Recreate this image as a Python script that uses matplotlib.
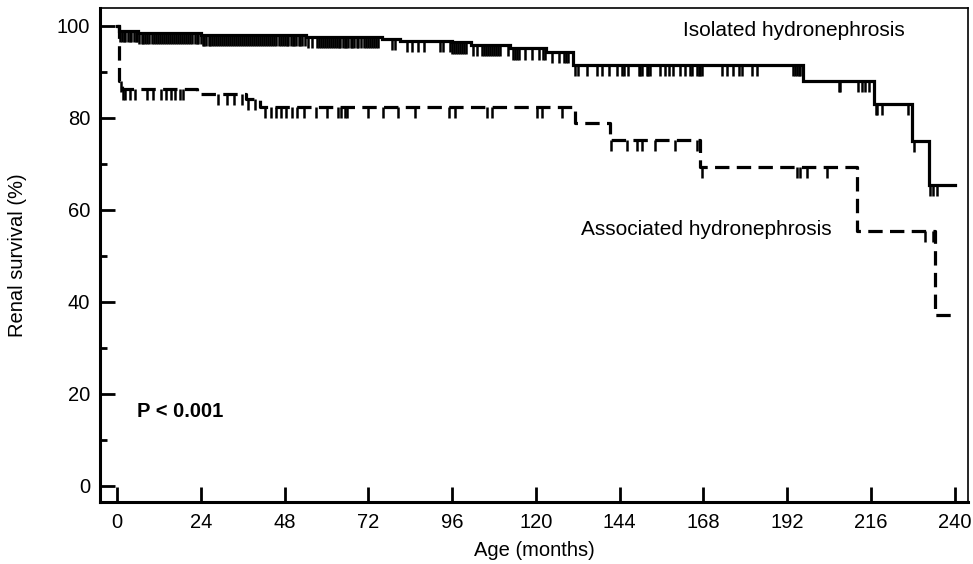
import numpy as np
import matplotlib
matplotlib.use("Agg")
import matplotlib.pyplot as plt

plt.rcParams['font.family'] = ['Liberation Sans', 'DejaVu Sans']

# ---- Data ----
# Isolated hydronephrosis (solid): step times (months) and survival (%)
iso_times = [0, 0.5, 6, 24, 54, 76, 81, 96, 101.5, 112.5, 123, 130.5, 196.5, 217, 227.7, 232.5, 240]
iso_surv = [100, 98.8, 98.4, 98.0, 97.6, 97.2, 96.8, 96.4, 95.9, 95.1, 94.3, 91.6, 88.1, 83.0, 74.9, 65.4, 65.4]
iso_censor = [
    0.8, 1.3, 1.9, 2.4, 3.0, 3.6, 4.1, 4.7, 5.3, 5.8, 6.4, 7.0, 7.5, 8.1, 8.7, 9.2,
    10.0, 10.6, 11.1, 11.7, 12.3, 12.8, 13.4, 14.0, 14.5, 15.1, 15.7, 16.2, 16.8, 17.4,
    17.9, 18.5, 19.1, 19.6, 20.2, 20.8, 21.4,
    22.2, 22.8, 23.3, 23.9, 24.5, 25.0, 25.6, 26.2, 26.7, 27.3, 27.9, 28.4, 29.0, 29.6,
    30.1, 30.7, 31.3, 31.8, 32.4, 33.0, 33.5, 34.1, 34.7, 35.2, 35.8, 36.4, 36.9, 37.5,
    38.1, 38.6, 39.2, 39.8, 40.3, 40.9, 41.5, 42.0, 42.6, 43.2, 43.7, 44.3, 44.9, 45.4,
    46.3, 46.9, 47.4, 48.0, 48.6, 49.1, 49.7, 50.3, 50.8, 51.4, 52.0, 52.5, 53.1, 53.7,
    54.7, 55.8,
    57.2, 57.8, 58.4, 58.9, 59.5, 60.1, 60.6, 61.2, 61.8, 62.3, 62.9, 63.5, 64.0, 64.6,
    65.2, 65.7, 66.3, 66.9, 67.4, 68.0, 68.6, 69.1,
    69.9, 70.6,
    71.4, 72.0, 72.5, 73.1, 73.7, 74.2, 74.8,
    78.7, 79.7, 83.0, 84.4, 86.3, 87.8, 92.6, 93.5,
    95.4, 96.0, 96.5, 97.1, 97.7, 98.2, 98.8, 99.4, 99.9,
    102.0, 103.2,
    104.5, 105.1, 105.6, 106.2, 106.8, 107.3, 107.9, 108.5, 109.0, 109.6,
    112.0, 113.5, 114.1, 114.6, 115.2, 117.0, 119.0, 121.0, 122.0, 122.6,
    124.6, 126.5, 128.0, 128.6, 129.2,
    131.2, 132.2, 134.6, 137.4, 139.0, 140.8, 143.2, 144.6, 145.1, 146.5, 149.4, 149.9,
    150.3, 151.8, 152.2, 152.7, 155.6, 157.1, 158.0, 159.4, 161.3, 162.8, 164.2, 164.7,
    166.1, 166.6, 167.0, 167.5, 173.3, 174.7, 176.6, 178.1, 179.0, 181.9, 183.3,
    193.8, 194.3, 194.8, 195.3, 195.7,
    206.7, 207.2, 212.4, 213.4, 214.3, 215.3,
    217.3, 217.8, 219.1, 226.7,
    228.2,
    232.9, 233.9, 234.9,
]

# Associated hydronephrosis (dashed)
ass_times = [0, 0.6, 1.5, 23, 37, 41, 131.2, 141.3, 167, 212, 234.4, 240]
ass_surv = [100, 88.0, 86.2, 85.3, 84.2, 82.4, 78.8, 75.3, 69.4, 55.5, 37.2, 37.2]
ass_censor = [
    1.0, 1.7, 2.2, 3.8, 5.0, 8.5, 10.2, 12.5, 14.0, 15.5, 16.5, 18.0, 19.0,
    29.0, 31.5, 33.5, 35.8, 37.5, 39.5,
    42.5, 44.0, 45.5, 47.0, 48.5, 50.0, 51.5, 53.5, 57.0, 60.0, 63.2, 64.2, 65.2, 66.0,
    72.0, 76.3, 80.6, 85.4, 95.0, 96.8, 106.0, 107.4, 120.3, 121.7, 127.4,
    141.6, 146.0, 148.9, 150.3, 154.2, 159.9, 166.1,
    167.5, 194.7, 195.7, 197.6, 203.3,
    231.5, 233.9,
]

x_ticks = [0, 24, 48, 72, 96, 120, 144, 168, 192, 216, 240]
y_ticks = [0, 20, 40, 60, 80, 100]
y_minor = [10, 30, 50, 70, 90]

# ---- Figure ----
fig = plt.figure(figsize=(9.73, 5.64), dpi=100)
ax = fig.add_axes([100/973, 1-502/564, 868/973, 494/564])

ax.step(iso_times, iso_surv, where='post', color='black', lw=2.3, solid_joinstyle='miter')
ax.step(ass_times, ass_surv, where='post', color='black', lw=2.3, dashes=(4.5, 2.3))

def censor_levels(times, surv, cens):
    idx = np.searchsorted(np.asarray(times), np.asarray(cens), side='right') - 1
    return np.asarray(surv)[idx]

tick_len = 2.4
lv = censor_levels(iso_times, iso_surv, iso_censor)
ax.vlines(iso_censor, lv - tick_len, lv, color='black', lw=1.8)
lv2 = censor_levels(ass_times, ass_surv, ass_censor)
ax.vlines(ass_censor, lv2 - tick_len, lv2, color='black', lw=1.8)

ax.set_xlim(-4.9, 243.8)
ax.set_ylim(-3.5, 103.9)
ax.set_xticks(x_ticks)
ax.set_yticks(y_ticks)
ax.set_yticks(y_minor, minor=True)
ax.tick_params(axis='both', which='major', direction='in', length=11, width=2.0,
               labelsize=14.5, color='black')
ax.tick_params(axis='y', which='major', pad=7)
ax.tick_params(axis='x', which='major', pad=8)
ax.tick_params(axis='y', which='minor', direction='in', length=5, width=2.0)

for s in ['left', 'bottom']:
    ax.spines[s].set_linewidth(2.2)
for s in ['top', 'right']:
    ax.spines[s].set_linewidth(1.2)

ax.set_xlabel('Age (months)', fontsize=14.5)
ax.xaxis.set_label_coords(0.501, -0.099)
ax.xaxis.label.set_va('center')
ax.set_ylabel('Renal survival (%)', fontsize=14.5)
ax.yaxis.set_label_coords(-0.0945, 0.5)
ax.yaxis.label.set_va('center')

ax.text(162.2, 99.1, 'Isolated hydronephrosis', fontsize=15, ha='left', va='center')
ax.text(133.0, 55.7, 'Associated hydronephrosis', fontsize=15, ha='left', va='center')
ax.text(5.7, 16.1, 'P < 0.001', fontsize=14.5, fontweight='bold', ha='left', va='center')

fig.savefig('out.png', dpi=100)
